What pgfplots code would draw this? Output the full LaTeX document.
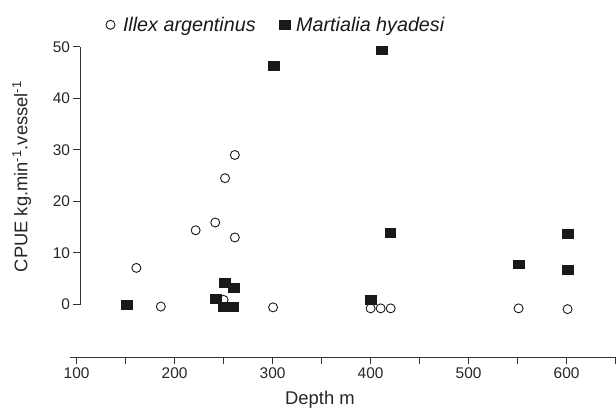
\documentclass[border=0pt]{standalone}
\usepackage{pgfplots}
\pgfplotsset{compat=1.18}
\usepackage{fontspec}
\setmainfont{Liberation Sans}
\begin{document}
\begin{tikzpicture}
\begin{axis}[
  name=ax,
  scale only axis,
  width=545.9bp, height=257.8bp,
  xmin=93, xmax=650, ymin=0, ymax=50,
  clip=false,
  axis x line=bottom, axis y line=left,
  axis line style={-, black!80, line width=0.9bp},
  axis x line shift=53bp,
  axis y line shift=-10.3bp,
  xtick={100,150,...,650},
  xticklabels={100,,200,,300,,400,,500,,600,},
  ytick={0,10,...,50},
  tick align=outside,
  major tick length=6.5bp,
  tick style={black!80, line width=0.9bp},
  /pgf/number format/assume math mode=true,
  tick label style={font=\fontsize{15.5}{17}\selectfont, text=black!85},
  legend columns=2,
  legend cell align=left,
  legend style={at={(axis description cs:0.0665,1.085)}, anchor=west, draw=none, fill=none,
    inner sep=0pt, outer sep=0pt, column sep=0pt, nodes={inner sep=0pt},
    font=\itshape\fontsize{19.8}{22}\selectfont, text=black!90},
  legend image code/.code={\draw[#1] plot coordinates {(5bp,0bp)};},
]
\addplot[only marks, mark=o, mark size=4.5bp, mark options={line width=0.9bp, draw=black!90}]
coordinates {
(161,7.1) (186,-0.4) (221.5,14.4) (241.5,15.9) (250,0.9) (251.5,24.5)
(261.5,29.0) (261.5,13.0) (300.5,-0.55) (400,-0.75) (410.3,-0.75) (420.5,-0.75)
(551,-0.75) (601,-0.9)
};
\addlegendentry{\hspace*{8bp}Illex argentinus\hspace*{24bp}}
\addplot[only marks, mark=square*, mark size=4.4bp, mark options={xscale=1.2, fill=black!90, draw=black!90, line width=0.6bp}]
coordinates {
(151,0.0) (242.2,1.05) (251.4,4.2) (260.6,3.3) (249.7,-0.4) (259.9,-0.4)
(301.4,46.3) (400.1,0.9) (411.3,49.3) (420,13.9) (551,7.8) (601,13.7) (601,6.7)
};
\addlegendentry{\hspace*{6bp}Martialia hyadesi}
\node[rotate=90, font=\fontsize{18.4}{20}\selectfont, text=black!85] at (axis cs:44,24.8)
  {CPUE kg.min\textsuperscript{-1}.vessel\textsuperscript{-1}};
\node[font=\fontsize{18.5}{20}\selectfont, text=black!85] at (axis cs:348.4,-18.5) {Depth m};
\end{axis}
\pgfresetboundingbox
\path (ax.south west) ++(-69.7bp,-106.5bp) rectangle ++(616bp,411bp);
\end{tikzpicture}
\end{document}
